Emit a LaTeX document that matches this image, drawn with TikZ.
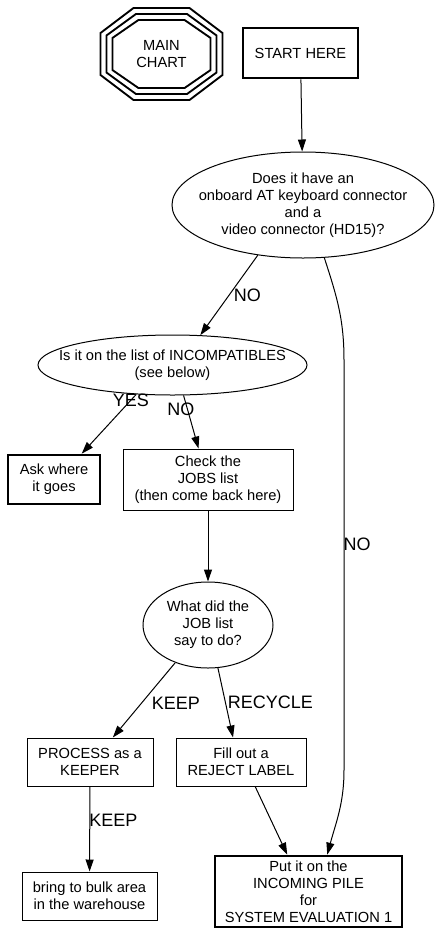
\documentclass[tikz,border=0pt]{standalone}
\usepackage{fontspec}
\setmainfont{Liberation Sans}
\usetikzlibrary{arrows.meta, positioning, calc, shapes.geometric}

\begin{document}
\begin{tikzpicture}[
    x=0.75pt, y=0.75pt,
    box/.style={draw, rectangle, align=center, inner sep=0pt, line width=0.75pt, font=\fontsize{11}{12.8}\selectfont},
    box_bold/.style={box, line width=2pt},
    query/.style={draw, ellipse, align=center, inner xsep=-20pt, inner ysep=0pt, line width=0.75pt, font=\fontsize{11}{12.8}\selectfont},
    ring/.style={line width=1.4pt},
    arrow/.style={-{Triangle[length=9pt, width=6pt]}, line width=0.75pt},
    edgelabel/.style={font=\fontsize{13.5}{16}\selectfont},
]

\useasboundingbox (0,0) rectangle (439,-943);

% main chart octagon
\node[align=center, font=\fontsize{11}{12.8}\selectfont] (main) at (161.5,-54) {MAIN\\CHART};
\foreach \d in {0,6,12} {
    \pgfmathsetmacro{\hx}{28-0.41*\d}
    \pgfmathsetmacro{\hy}{46-\d}
    \pgfmathsetmacro{\sx}{61-\d}
    \pgfmathsetmacro{\sy}{21-0.41*\d}
    \draw[ring] ($(main)+(-\hx,\hy)$) -- ($(main)+(\hx,\hy)$) -- ($(main)+(\sx,\sy)$) -- ($(main)+(\sx,-\sy)$)
        -- ($(main)+(\hx,-\hy)$) -- ($(main)+(-\hx,-\hy)$) -- ($(main)+(-\sx,-\sy)$) -- ($(main)+(-\sx,\sy)$) -- cycle;
}

\node[box_bold, minimum width=86.25pt, minimum height=37.5pt] (start) at (300.5,-53) {START HERE};
\node[query, minimum width=196.5pt, minimum height=79.5pt] (conn) at (303,-205) {Does it have an\\onboard AT keyboard connector\\and a\\video connector (HD15)?};
\node[query, minimum width=201.75pt, minimum height=45pt] (incompat) at (172.5,-365) {Is it on the list of INCOMPATIBLES\\(see below)};
\node[box_bold, minimum width=69pt, minimum height=36.75pt] (ask) at (54,-479.5) {Ask where\\it goes};
\node[box, minimum width=127.5pt, minimum height=45.75pt] (jobs) at (208,-479.5) {Check the\\JOBS list\\(then come back here)};
\node[query, minimum width=97.5pt, minimum height=64.5pt] (todo) at (208,-625) {What did the\\JOB list\\say to do?};
\node[box, minimum width=94.5pt, minimum height=36pt] (keeper) at (90,-762) {PROCESS as a\\KEEPER};
\node[box, minimum width=97.5pt, minimum height=36pt] (reject) at (241,-762) {Fill out a\\REJECT LABEL};
\node[box, minimum width=101.25pt, minimum height=36pt] (bulk) at (89.5,-896) {bring to bulk area\\in the warehouse};
\node[box_bold, minimum width=140.25pt, minimum height=53.25pt] (pile) at (308.5,-891.5) {Put it on the\\INCOMING PILE\\for\\SYSTEM EVALUATION 1};

\coordinate (bendtop) at (344,-360);
\coordinate (bendbot) at (344,-770);

% edges left
\draw[arrow] (start) -- (conn);
\draw[arrow] (conn.-132) -- node[edgelabel, pos=0.5, right] {NO} (incompat.47);
\draw[arrow] (incompat.-141) -- node[edgelabel, pos=0.1] {YES} (ask.43);
\draw[arrow] (incompat.-70) -- node[edgelabel, pos=0.27, xshift=-5pt] {NO} (jobs.107);
\draw[arrow] (jobs) -- (todo);
\draw[arrow] (todo.-131) -- node[edgelabel, pos=0.54, right, xshift=4pt] {KEEP} (keeper.47);
\draw[arrow] (todo.-77) -- node[edgelabel, pos=0.5, right, xshift=-2pt] {RECYCLE} (reject.108);
\draw[arrow] (keeper) -- node[edgelabel, pos=0.4, right, xshift=-4pt] {KEEP} (bulk);
\draw[arrow] (reject.-60) -- (pile.120);

% edge right
\draw[arrow] (conn.-68) to[out=-72, in=90] (bendtop) -- node[edgelabel, pos=0.45, right, xshift=-4pt] {NO} (bendbot) to[out=-90, in=75] (pile.63);

\end{tikzpicture}
\end{document}
